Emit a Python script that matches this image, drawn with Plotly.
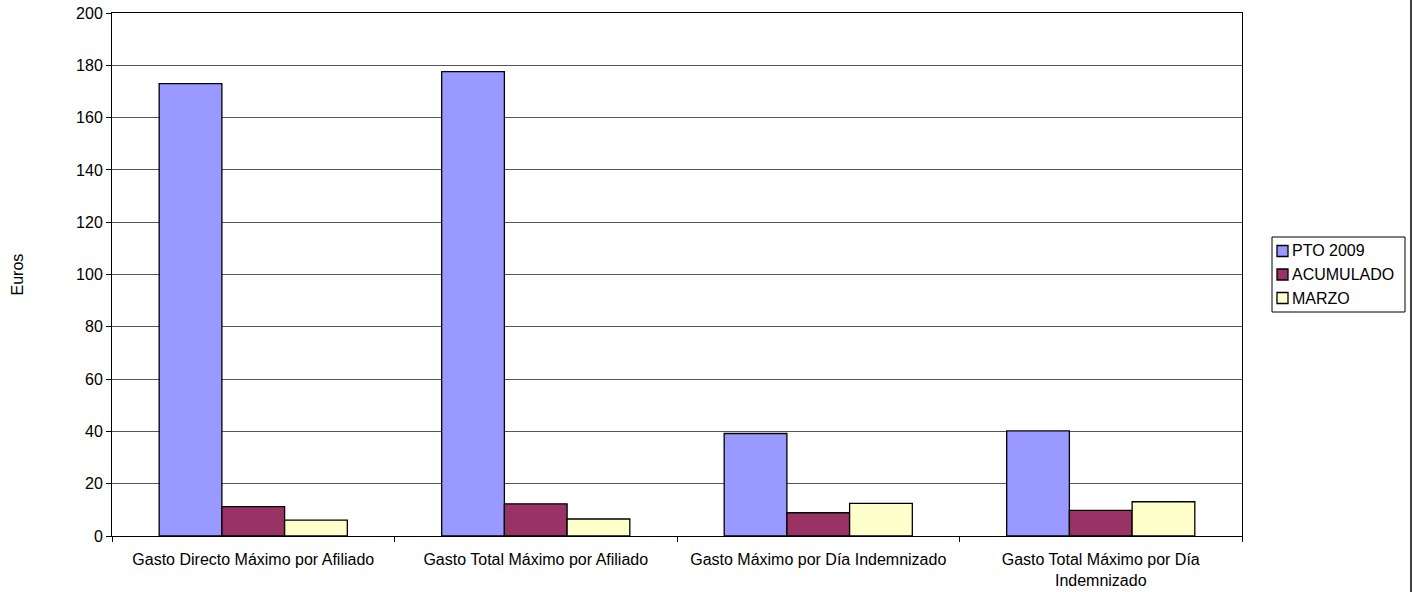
import plotly.graph_objects as go

categories = ["Gasto Directo Máximo por Afiliado",
              "Gasto Total Máximo por Afiliado",
              "Gasto Máximo por Día Indemnizado",
              "Gasto Total Máximo por Día<br>Indemnizado"]
pto_2009 = [173.0, 177.6, 39.2, 40.2]
acumulado = [11.2, 12.3, 8.9, 9.8]
marzo = [6.1, 6.5, 12.5, 13.1]

series = [("PTO 2009", pto_2009, "#9999FF"),
          ("ACUMULADO", acumulado, "#993366"),
          ("MARZO", marzo, "#FFFFCC")]

fig = go.Figure()
for name, vals, col in series:
    fig.add_trace(go.Bar(x=categories, y=vals, name=name, marker_color=col,
                         marker_line=dict(color="#000000", width=1.3), showlegend=False))

W, H = 1416, 592
L, R, T, B = 112, 1416 - 1242, 13, 592 - 536
pw, ph = W - L - R, H - T - B
FS = 16


def px(x):
    return (x - L) / pw


def py(y):
    return (H - B - y) / ph


shapes = [
    # legend box
    dict(type="rect", xref="paper", yref="paper", x0=px(1272), x1=px(1405),
         y0=py(237), y1=py(312), line=dict(color="#000000", width=1), fillcolor="white"),
    # right border line
    dict(type="line", xref="paper", yref="paper", x0=px(1411), x1=px(1411),
         y0=py(0), y1=py(592), line=dict(color="#000000", width=1.5)),
]
annotations = [dict(text="Euros", xref="paper", yref="paper",
                    x=px(17), y=0.5, textangle=-90, showarrow=False,
                    xanchor="center", yanchor="middle", font=dict(size=FS))]

row_y = [251, 274.5, 298]
for (name, vals, col), yc in zip(series, row_y):
    shapes.append(dict(type="rect", xref="paper", yref="paper",
                       x0=px(1277), x1=px(1288), y0=py(yc - 5.5), y1=py(yc + 5.5),
                       fillcolor=col, line=dict(color="#000000", width=1.3)))
    annotations.append(dict(text=name, xref="paper", yref="paper", x=px(1290), y=py(yc),
                            xanchor="left", yanchor="middle", showarrow=False,
                            font=dict(size=FS)))

fig.update_layout(
    width=W, height=H,
    margin=dict(l=L, r=R, t=T, b=B, pad=0, autoexpand=False),
    paper_bgcolor="white", plot_bgcolor="white",
    font=dict(family="Liberation Sans, Arial, sans-serif", size=FS, color="#000000"),
    barmode="group", bargap=0.334, bargroupgap=0,
    showlegend=False,
    xaxis=dict(type="category", tickson="boundaries", ticks="outside", ticklen=5,
               tickcolor="#000000", showline=True, linecolor="#000000", linewidth=1,
               mirror=True, showgrid=False, tickfont=dict(size=FS), automargin=False,
               ticklabelstandoff=9),
    yaxis=dict(range=[0, 200], dtick=20, ticks="outside", ticklen=5, tickcolor="#000000",
               showline=True, linecolor="#000000", linewidth=1, mirror=True,
               showgrid=True, gridcolor="#555555", gridwidth=1, zeroline=False,
               tickfont=dict(size=FS), automargin=False),
    annotations=annotations,
    shapes=shapes,
)

fig.write_html("out.html", config={"displayModeBar": False},
               post_script="document.body.style.margin='0';")
